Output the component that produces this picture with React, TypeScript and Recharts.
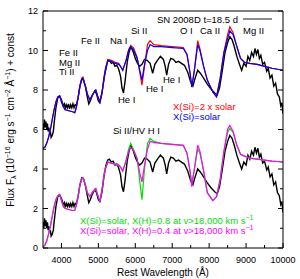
import { LineChart, Line, XAxis, YAxis, ReferenceLine } from 'recharts';

// observed spectrum (upper copy); the lower copy is the same spectrum shifted down
const obsWave = [
  3500, 3520, 3540, 3560, 3580, 3600, 3620, 3640, 3660, 3680, 3700, 3720, 3750, 3780, 3800, 3850, 3900, 3950,
  4000, 4050, 4080, 4100, 4130, 4160, 4190, 4220, 4250, 4280, 4310, 4340, 4370, 4400, 4450, 4500, 4550, 4600,
  4650, 4700, 4740, 4780, 4830, 4900, 4950, 5000, 5040, 5100, 5150, 5200, 5250, 5300, 5350, 5400, 5450, 5500,
  5550, 5600, 5640, 5680, 5720, 5780, 5830, 5880, 5950, 6000, 6060, 6120, 6180, 6250, 6320, 6400, 6470, 6530,
  6600, 6680, 6760, 6810, 6850, 6900, 6960, 7030, 7100, 7170, 7250, 7330, 7420, 7500, 7560, 7620, 7690, 7760,
  7850, 7950, 8050, 8150, 8220, 8280, 8350, 8430, 8500, 8560, 8620, 8680, 8750, 8820, 8880, 8940, 9000, 9050,
  9100, 9150, 9200, 9240, 9280, 9320, 9360, 9400, 9450, 9500, 9560, 9600, 9650, 9700, 9750, 9800, 9850, 9900,
  9940, 9970, 10000,
];
const obsFlux = [
  6.3, 6.0, 6.5, 6.1, 6.4, 6.0, 6.3, 5.9, 6.1, 5.8, 5.9, 5.6, 5.7, 5.9, 6.3, 7.1, 7.6, 7.7,
  7.5, 7.2, 7.3, 7.05, 7.25, 7.1, 7.3, 7.05, 7.25, 7.1, 7.3, 7.1, 7.25, 7.2, 7.6, 8.2, 8.55, 8.5,
  8.15, 7.65, 7.3, 7.45, 7.7, 7.95, 7.8, 7.45, 7.35, 7.85, 8.6, 9.15, 9.45, 9.5, 9.35, 9.4, 9.2, 9.25,
  9.05, 8.7, 8.1, 7.85, 8.4, 9.4, 9.9, 10.2, 9.9, 9.6, 9.35, 9.2, 9.3, 9.55, 9.5, 9.35, 8.85, 9.3,
  9.5, 9.7, 9.55, 9.2, 8.75, 9.3, 9.6, 9.55, 9.4, 9.45, 9.35, 9.25, 8.9, 8.4, 8.2, 8.6, 9.0, 8.85,
  8.6, 8.3, 8.05, 7.85, 7.75, 8.1, 8.9, 9.9, 10.4, 10.7, 10.55, 10.2, 9.7, 9.3, 9.0, 9.35, 9.2, 9.7,
  9.5, 9.9, 9.7, 10.1, 9.8, 10.05, 9.6, 9.75, 9.3, 9.4, 8.95, 9.1, 8.6, 8.75, 8.2, 8.35, 7.8, 7.65,
  7.2, 7.35, 6.8,
];
const obsShift = -5;

// model spectra, all on one wavelength grid
const modelWave = [
  3500, 3550, 3600, 3650, 3700, 3750, 3800, 3850, 3900, 3950, 4000, 4050, 4100, 4200, 4300, 4360, 4400, 4450,
  4500, 4550, 4580, 4650, 4700, 4770, 4850, 4930, 4980, 5040, 5100, 5170, 5255, 5350, 5450, 5550, 5600, 5660,
  5750, 5820, 5876, 5950, 6050, 6120, 6180, 6250, 6330, 6400, 6500, 6700, 7000, 7300, 7400, 7480, 7530, 7600,
  7690, 7750, 7850, 7950, 8100, 8200, 8300, 8400, 8500, 8560, 8650, 8750, 8850, 8960, 9100, 9300, 9500, 9700,
  9850, 10000,
];
const siSolar = [
  5.05, 5.1, 5.3, 5.6, 6.0, 6.5, 7.0, 7.4, 7.65, 7.7, 7.4, 7.15, 7.0, 6.95, 6.9, 6.85, 7.1, 7.6,
  8.2, 8.55, 8.6, 8.2, 7.8, 7.5, 7.8, 8.0, 7.7, 7.4, 7.9, 8.75, 9.5, 9.45, 9.35, 9.3, 9.2, 9.0,
  9.5, 10.0, 10.2, 10.05, 9.6, 9.0, 8.5, 9.3, 10.0, 10.3, 10.2, 10.2, 10.15, 10.1, 9.8, 8.9, 8.15, 9.0,
  10.3, 10.0, 9.2, 8.5, 7.9, 7.65, 8.6, 9.9, 10.6, 11.0, 10.8, 10.2, 9.6, 9.4, 9.35, 9.3, 9.2, 9.1,
  9.05, 9.0,
];
const si2xSolar = [
  5.05, 5.1, 5.3, 5.6, 6.0, 6.5, 7.0, 7.4, 7.65, 7.7, 7.4, 7.15, 7.0, 6.95, 6.9, 6.85, 7.1, 7.6,
  8.2, 8.6, 8.65, 8.2, 7.8, 7.5, 7.8, 8.0, 7.7, 7.4, 7.9, 8.75, 9.55, 9.5, 9.4, 9.35, 9.2, 9.0,
  9.5, 10.05, 10.25, 10.15, 9.65, 8.9, 8.25, 9.2, 10.3, 10.5, 10.3, 10.25, 10.2, 10.15, 9.8, 8.9, 8.15, 9.0,
  10.5, 10.1, 9.2, 8.5, 7.9, 7.65, 8.6, 9.9, 10.8, 11.2, 10.9, 10.2, 9.6, 9.4, 9.35, 9.3, 9.2, 9.1,
  9.05, 9.0,
];
const hvH08 = [
  0.05, 0.15, 0.35, 0.7, 1.1, 1.6, 2.1, 2.45, 2.65, 2.7, 2.4, 2.1, 2.0, 1.95, 1.9, 1.9, 2.15, 2.6,
  3.2, 3.5, 3.55, 3.2, 2.8, 2.6, 2.85, 3.0, 2.7, 2.35, 3.0, 3.9, 4.35, 4.3, 4.25, 4.2, 4.1, 3.9,
  4.45, 5.0, 5.3, 5.0, 4.55, 3.4, 2.45, 4.0, 5.3, 5.55, 5.4, 5.3, 5.25, 5.2, 4.8, 3.95, 3.3, 4.0,
  5.0, 4.8, 3.9, 2.8, 2.4, 2.6, 3.5, 4.9, 5.85, 6.05, 5.85, 5.2, 4.75, 4.65, 4.55, 4.5, 4.45, 4.4,
  4.38, 4.35,
];
const hvH04 = [
  0.05, 0.15, 0.35, 0.7, 1.1, 1.6, 2.1, 2.45, 2.65, 2.7, 2.4, 2.1, 2.0, 1.95, 1.9, 1.9, 2.15, 2.6,
  3.2, 3.5, 3.55, 3.2, 2.8, 2.6, 2.85, 3.0, 2.7, 2.35, 3.0, 3.9, 4.35, 4.3, 4.25, 4.2, 4.1, 3.9,
  4.4, 4.9, 5.1, 4.95, 4.5, 3.8, 3.35, 4.2, 5.0, 5.4, 5.35, 5.3, 5.25, 5.2, 4.8, 3.9, 3.1, 4.0,
  5.2, 4.9, 3.9, 2.8, 2.4, 2.6, 3.5, 4.9, 6.0, 6.2, 5.9, 5.2, 4.75, 4.65, 4.55, 4.5, 4.45, 4.4,
  4.38, 4.35,
];

const xTicks = [4000, 4500, 5000, 5500, 6000, 6500, 7000, 7500, 8000, 8500, 9000, 9500, 10000];
const yTicks = [0, 1, 2, 3, 4, 5, 6, 7, 8, 9, 10, 11, 12];

const FONT = '"Liberation Sans", Arial, Helvetica, sans-serif';

const toPoints = (xs: number[], ys: number[], shift = 0) =>
  xs.map((x, i) => ({ x, y: ys[i] + shift }));

const XTick = (props: any) => {
  const { x, y, payload } = props;
  const major = payload.value % 1000 === 0;
  return (
    <g>
      <line x1={x} x2={x} y1={y} y2={y - (major ? 5 : 3)} stroke="#000" />
      {major && (
        <text x={x} y={y + 15} textAnchor="middle" fontSize={9} fontFamily={FONT} fill="#000">
          {payload.value}
        </text>
      )}
    </g>
  );
};

const YTick = (props: any) => {
  const { x, y, payload } = props;
  const major = payload.value % 2 === 0;
  return (
    <g>
      <line x1={x} x2={x + (major ? 5 : 3)} y1={y} y2={y} stroke="#000" />
      {major && (
        <text x={x - 5} y={y + 3.2} textAnchor="end" fontSize={9} fontFamily={FONT} fill="#000">
          {payload.value}
        </text>
      )}
    </g>
  );
};

const RTick = (props: any) => {
  const { x, y, payload } = props;
  const major = payload.value % 2 === 0;
  return <line x1={x} x2={x - (major ? 5 : 3)} y1={y} y2={y} stroke="#000" />;
};

const Sup = ({ children }: { children: string }) => (
  <>
    <tspan dy={-4} fontSize={7}>{children}</tspan>
    <tspan dy={4}> </tspan>
  </>
);

export default function App() {
  const obsTop = toPoints(obsWave, obsFlux);
  const obsBottom = toPoints(obsWave, obsFlux, obsShift);

  return (
    <div style={{ position: 'fixed', left: 0, top: 0, width: 300, height: 279, background: '#fff' }}>
      <LineChart width={300} height={279} margin={{ top: 11, right: 16, bottom: 0, left: 0 }}>
        <XAxis
          type="number"
          dataKey="x"
          domain={[3500, 10000]}
          allowDataOverflow
          ticks={xTicks}
          interval={0}
          height={31}
          tickSize={0}
          tickMargin={0}
          tickLine={false}
          tick={XTick}
          axisLine={{ stroke: '#000' }}
        />
        <YAxis
          type="number"
          dataKey="y"
          domain={[0, 12]}
          allowDataOverflow
          ticks={yTicks}
          interval={0}
          width={43}
          tickSize={0}
          tickMargin={0}
          tickLine={false}
          tick={YTick}
          axisLine={{ stroke: '#000' }}
        />
        <YAxis
          yAxisId="r"
          orientation="right"
          type="number"
          domain={[0, 12]}
          allowDataOverflow
          ticks={yTicks}
          interval={0}
          width={1}
          tickSize={0}
          tickMargin={0}
          tickLine={false}
          tick={RTick}
          axisLine={{ stroke: '#000' }}
        />
        <ReferenceLine y={12} stroke="#000" />

        <Line data={obsTop} dataKey="y" stroke="#000" strokeWidth={1.4} dot={false} isAnimationActive={false} />
        <Line data={toPoints(modelWave, si2xSolar)} dataKey="y" stroke="#ff0000" strokeWidth={1.2} dot={false} isAnimationActive={false} />
        <Line data={toPoints(modelWave, siSolar)} dataKey="y" stroke="#0000ff" strokeWidth={1.2} dot={false} isAnimationActive={false} />

        <Line data={obsBottom} dataKey="y" stroke="#000" strokeWidth={1.4} dot={false} isAnimationActive={false} />
        <Line data={toPoints(modelWave, hvH08)} dataKey="y" stroke="#00e000" strokeWidth={1.2} dot={false} isAnimationActive={false} />
        <Line data={toPoints(modelWave, hvH04)} dataKey="y" stroke="#ff00ff" strokeWidth={1.2} dot={false} isAnimationActive={false} />
      </LineChart>

      <svg
        width={300}
        height={279}
        style={{ position: 'absolute', left: 0, top: 0, pointerEvents: 'none' }}
        fontFamily={FONT}
        fontSize={9.5}
      >
        {/* legend */}
        <text x={238} y={22.5} textAnchor="end" fill="#000">SN 2008D t=18.5 d</text>
        <line x1={243} x2={272} y1={19} y2={19} stroke="#666" strokeWidth={1.5} />

        {/* line identifications */}
        <text x={59} y={55.5} fill="#000">Fe II</text>
        <text x={59} y={65.5} fill="#000">Mg II</text>
        <text x={59} y={75} fill="#000">Ti II</text>
        <text x={81} y={44} fill="#000">Fe II</text>
        <text x={110} y={44} fill="#000">Na I</text>
        <text x={131} y={34} fill="#000">Si II</text>
        <text x={118} y={103} fill="#000">He I</text>
        <text x={146} y={92} fill="#000">He I</text>
        <text x={163} y={83} fill="#000">He I</text>
        <text x={180} y={34} fill="#000">O I</text>
        <text x={200} y={34} fill="#000">Ca II</text>
        <text x={243} y={34} fill="#000">Mg II</text>
        <text x={113} y={134} fill="#000">Si II/HV H I</text>

        <text x={173} y={110} fill="#ff0000">X(Si)=2 x solar</text>
        <text x={173} y={120} fill="#0000ff">X(Si)=solar</text>

        <text x={80} y={224} fill="#00e000">
          X(Si)=solar, X(H)=0.8 at v&gt;18,000 km s<Sup>−1</Sup>
        </text>
        <text x={80} y={233.5} fill="#ff00ff">
          X(Si)=solar, X(H)=0.4 at v&gt;18,000 km s<Sup>−1</Sup>
        </text>

        {/* axis titles */}
        <text x={163} y={276} textAnchor="middle" fontSize={10} fill="#000">Rest Wavelength (Å)</text>
        <text transform="translate(14,120) rotate(-90)" textAnchor="middle" fontSize={10} fill="#000">
          Flux F<tspan dy={2} fontSize={7}>λ</tspan>
          <tspan dy={-2}> (10</tspan>
          <tspan dy={-4} fontSize={7}>−16</tspan>
          <tspan dy={4}> erg s</tspan>
          <tspan dy={-4} fontSize={7}>−1</tspan>
          <tspan dy={4}> cm</tspan>
          <tspan dy={-4} fontSize={7}>−2</tspan>
          <tspan dy={4}> Å</tspan>
          <tspan dy={-4} fontSize={7}>−1</tspan>
          <tspan dy={4}>) + const</tspan>
        </text>
      </svg>
    </div>
  );
}
